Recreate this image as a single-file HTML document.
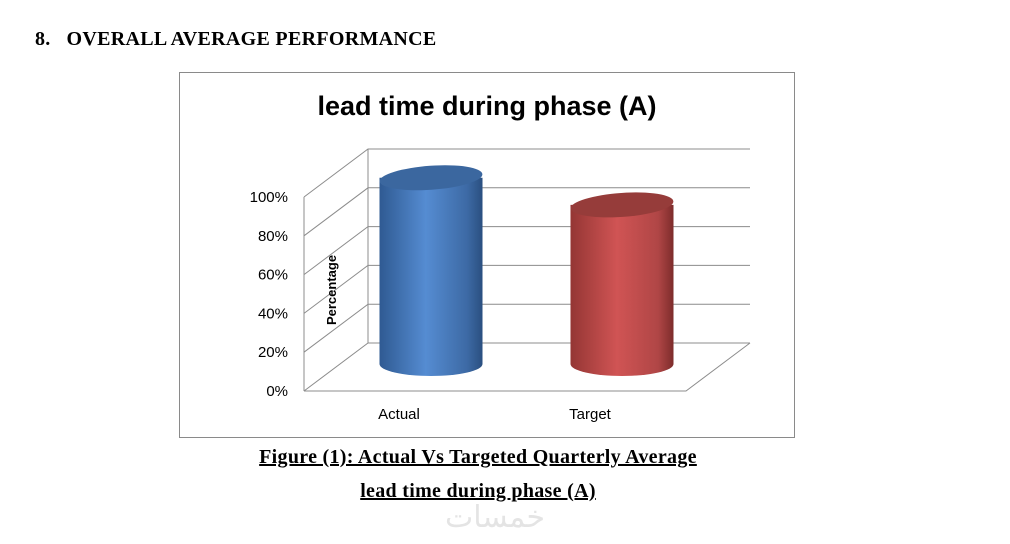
<!DOCTYPE html>
<html><head><meta charset="utf-8"><style>
body{margin:0;width:1010px;height:544px;background:#fff;position:relative;overflow:hidden;font-family:"Liberation Serif",serif}
.h{position:absolute;font-weight:bold;font-size:20px;letter-spacing:0.3px}
.cap{position:absolute;left:0;width:956px;text-align:center;font-weight:bold;font-size:20px;letter-spacing:0.3px;text-decoration:underline}
</style></head><body>
<div class="h" style="left:35px;top:28px">8.&nbsp;&nbsp; OVERALL AVERAGE PERFORMANCE</div>
<svg width="1010" height="544" style="position:absolute;left:0;top:0">
<defs>
<linearGradient id="gb" x1="0" x2="1"><stop offset="0" stop-color="#2f5a92"/><stop offset=".45" stop-color="#558cd2"/><stop offset=".85" stop-color="#3d6aa5"/><stop offset="1" stop-color="#2a4f80"/></linearGradient>
<linearGradient id="gr" x1="0" x2="1"><stop offset="0" stop-color="#943634"/><stop offset=".45" stop-color="#d05454"/><stop offset=".85" stop-color="#b04646"/><stop offset="1" stop-color="#7d2c2b"/></linearGradient>
</defs>
<rect x="179.5" y="72.5" width="615" height="365" fill="#fff" stroke="#8a8a8a"/>
<text x="487" y="115" text-anchor="middle" font-family="Liberation Sans,sans-serif" font-weight="bold" font-size="27">lead time during phase (A)</text>
<g id="grid" stroke="#8c8c8c" fill="none" stroke-width="1"></g>
<g id="ticks" font-family="Liberation Sans,sans-serif" font-size="15" text-anchor="end"></g>
<text transform="translate(336,290) rotate(-90)" text-anchor="middle" font-family="Liberation Sans,sans-serif" font-weight="bold" font-size="13">Percentage</text>
<g id="bars"></g>
<g id="cats" font-family="Liberation Sans,sans-serif" font-size="15" text-anchor="middle"></g>
</svg>
<div class="cap" style="top:446px">Figure (1): Actual Vs Targeted Quarterly Average</div>
<div class="cap" style="top:480px">lead time during phase (A)</div>
<div style="position:absolute;left:445px;top:500px;font-size:30px;color:#e4e4e4;font-family:'DejaVu Sans',sans-serif">خمسات</div>
<script>
const categories=["Actual","Target"];
const values=[96,82];
const tickLabels=["0%","20%","40%","60%","80%","100%"];
const tickValues=[0,20,40,60,80,100];
const NS="http://www.w3.org/2000/svg";
function mk(t,a,p){const e=document.createElementNS(NS,t);for(const k in a)e.setAttribute(k,a[k]);p.appendChild(e);return e;}
const fx0=304,fy0=391,dx=64,dy=-48,h100=194,xr=686;
function yF(v){return fy0-v/100*h100;}
const grid=document.getElementById('grid'),ticks=document.getElementById('ticks');
tickValues.forEach((v,i)=>{
 const y=yF(v);
 const l=mk('polyline',{points:`${fx0},${y} ${fx0+dx},${y+dy} ${750},${y+dy}`},grid);
 
 
 const t=mk('text',{x:288,y:y+5},ticks);t.textContent=tickLabels[i];
 
 
});
mk('line',{x1:fx0,y1:yF(0),x2:fx0,y2:yF(100)},grid);
mk('line',{x1:fx0+dx,y1:yF(0)+dy,x2:fx0+dx,y2:yF(100)+dy},grid);
mk('polyline',{points:`${fx0},${fy0} ${xr},${fy0} ${xr+dx},${fy0+dy}`},grid);
const bars=document.getElementById('bars'),cats=document.getElementById('cats');
const base=364,cx=[431,622],rx=51.5,ry=12;
categories.forEach((c,i)=>{
 const top=base-values[i]/100*h100, x=cx[i];
 const g=mk('g',{},bars);
 
 
 const fill=i==0?'url(#gb)':'url(#gr)';
 mk('path',{d:`M${x-rx},${top} L${x-rx},${base} A${rx},${ry} 0 0 0 ${x+rx},${base} L${x+rx},${top} Z`,fill:fill},g);
 mk('ellipse',{cx:x,cy:top,rx:rx,ry:ry,fill:i==0?'#3b679f':'#963c3a',transform:`rotate(-4 ${x} ${top})`},g);
 const t=mk('text',{x:[399,590][i],y:419},cats);t.textContent=c;
 
 
});
</script>
</body></html>
